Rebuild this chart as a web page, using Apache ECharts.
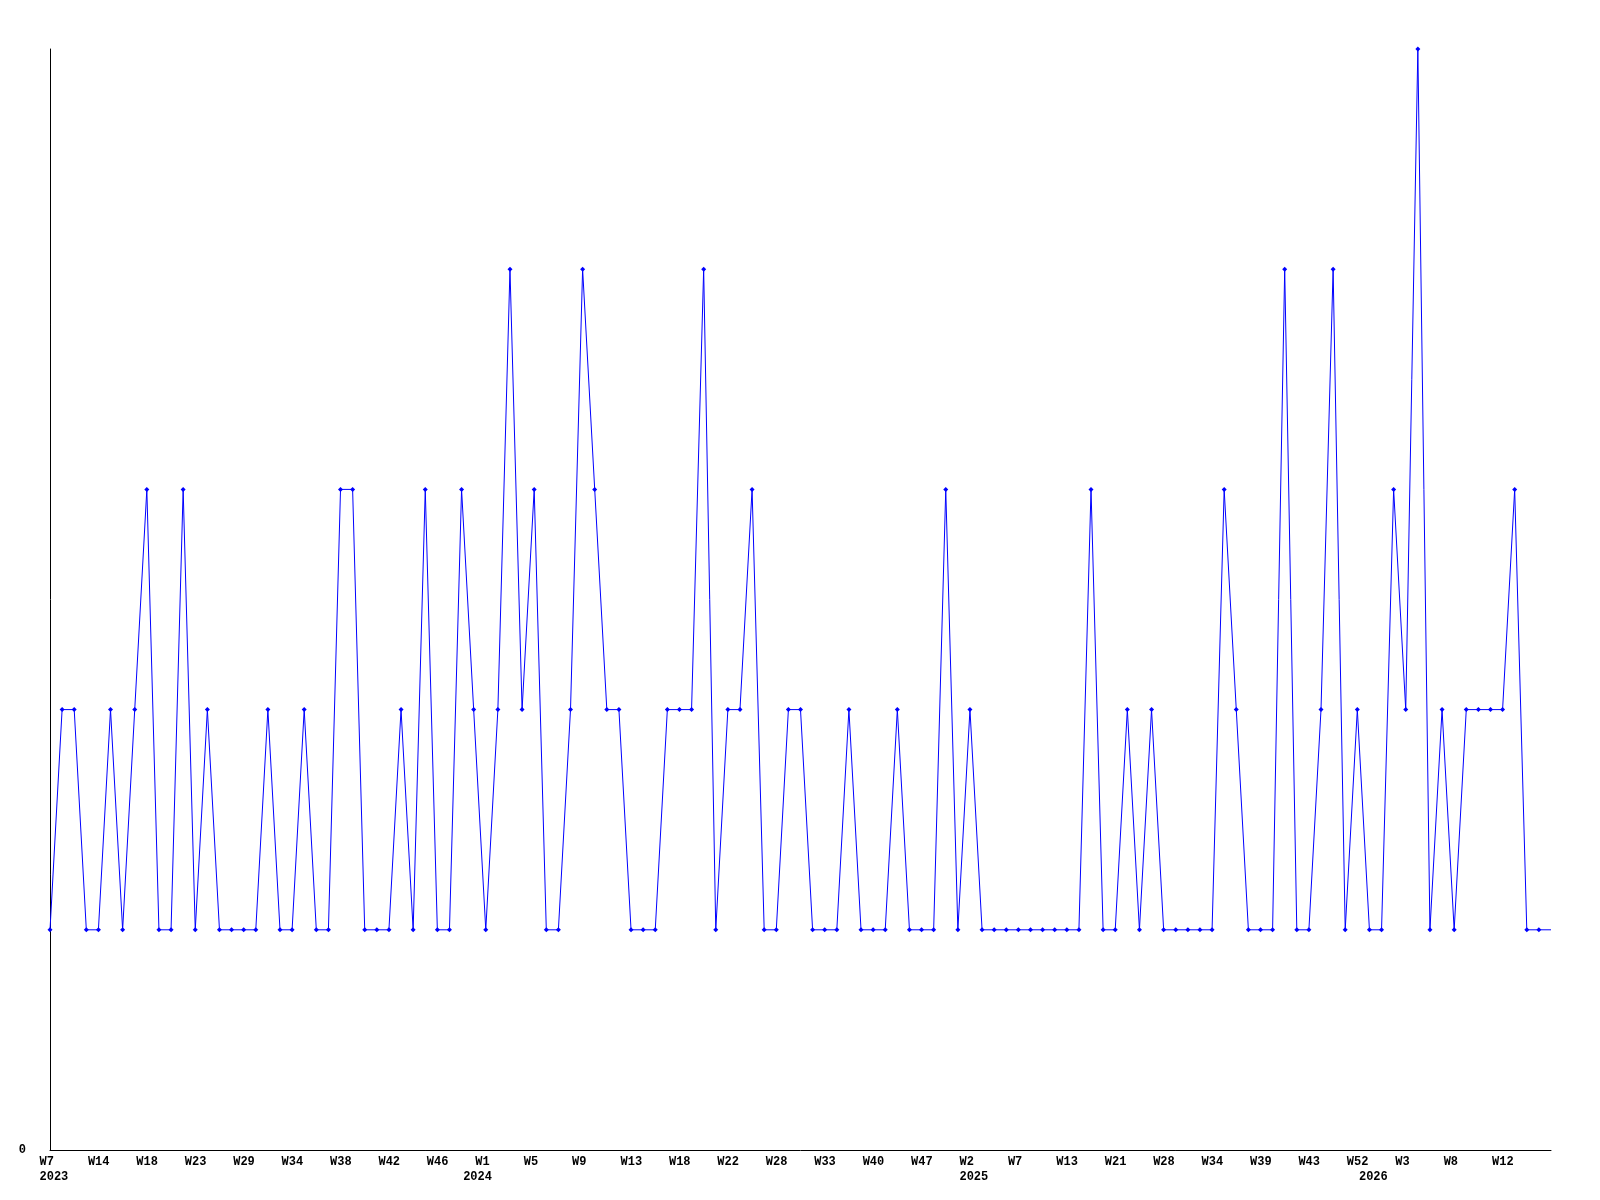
<!DOCTYPE html>
<html>
<head>
<meta charset="utf-8">
<style>
html, body { margin: 0; padding: 0; background: #fff; }
#main { width: 1600px; height: 1200px; }
</style>
</head>
<body>
<div id="main"></div>
<script src="https://cdn.jsdelivr.net/npm/echarts@6/dist/echarts.min.js"></script>
<script>
// weekly counts, one per category
const values = [
  1, 2, 2, 1, 1, 2, 1, 2, 3, 1,
  1, 3, 1, 2, 1, 1, 1, 1, 2, 1,
  1, 2, 1, 1, 3, 3, 1, 1, 1, 2,
  1, 3, 1, 1, 3, 2, 1, 2, 4, 2,
  3, 1, 1, 2, 4, 3, 2, 2, 1, 1,
  1, 2, 2, 2, 4, 1, 2, 2, 3, 1,
  1, 2, 2, 1, 1, 1, 2, 1, 1, 1,
  2, 1, 1, 1, 3, 1, 2, 1, 1, 1,
  1, 1, 1, 1, 1, 1, 3, 1, 1, 2,
  1, 2, 1, 1, 1, 1, 1, 3, 2, 1,
  1, 1, 4, 1, 1, 2, 4, 1, 2, 1,
  1, 3, 2, 5, 1, 2, 1, 2, 2, 2,
  2, 3, 1, 1, 1
]

// week label shown on every 4th category
const weekTicks = [
  'W7', 'W14', 'W18', 'W23', 'W29', 'W34', 'W38', 'W42', 'W46',
  'W1', 'W5', 'W9', 'W13', 'W18', 'W22', 'W28', 'W33', 'W40', 'W47',
  'W2', 'W7', 'W13', 'W21', 'W28', 'W34', 'W39', 'W43', 'W52',
  'W3', 'W8', 'W12'
]
// year label under the first week of each year
const yearTicks = { 0: '2023', 35: '2024', 76: '2025', 109: '2026' }

const categories = values.map((v, i) => String(i))

let myChart = echarts.init(document.getElementById('main'))
myChart.setOption({
  animation: false,
  backgroundColor: '#fff',
  grid: {
    left: 50,
    right: 49,
    top: 49,
    bottom: 50
  },
  xAxis: {
    type: 'category',
    data: categories,
    boundaryGap: false,
    axisLine: { lineStyle: { color: '#000', width: 1 } },
    axisTick: { show: false },
    splitLine: { show: false },
    axisLabel: {
      interval: 0,
      margin: 4,
      align: 'center',
      formatter: function (value, index) {
        let w = index % 4 === 0 ? (weekTicks[index / 4] || '') : ''
        let y = yearTicks[index] || ''
        if (!w && !y) return ''
        return '{a|' + (w || ' ') + '}\n{a|' + (y || ' ') + '}'
      },
      rich: {
        a: {
          width: 21,
          align: 'left',
          color: '#000',
          fontFamily: 'Liberation Mono',
          fontWeight: 'bold',
          fontSize: 12,
          lineHeight: 15
        }
      }
    }
  },
  yAxis: {
    type: 'value',
    min: 0,
    max: 5,
    interval: 5,
    axisLine: { show: true, lineStyle: { color: '#000', width: 1 } },
    axisTick: { show: false },
    splitLine: { show: false },
    axisLabel: {
      margin: 24,
      color: '#000',
      fontFamily: 'Liberation Mono',
      fontWeight: 'bold',
      fontSize: 12,
      formatter: function (v) { return v === 0 ? '0' : '' }
    }
  },
  series: [
    {
      type: 'line',
      data: values,
      symbol: 'diamond',
      symbolSize: function (v, p) {
        return p.dataIndex === values.length - 1 ? 0 : 5
      },
      lineStyle: { color: '#0000ff', width: 1 },
      itemStyle: { color: '#0000ff' },
      emphasis: { disabled: true }
    }
  ]
})
</script>
</body>
</html>
